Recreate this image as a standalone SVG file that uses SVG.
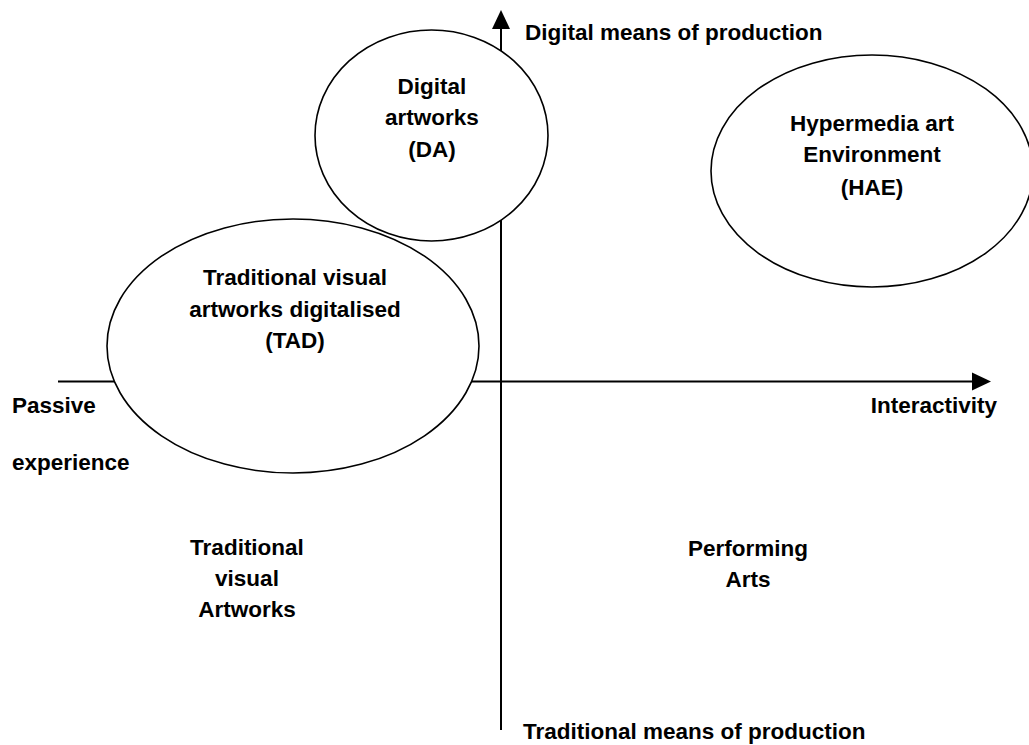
<svg xmlns="http://www.w3.org/2000/svg" width="1029" height="745" viewBox="0 0 1029 745">
  <style>
    .lbl { font-family: "Liberation Sans", Arial, sans-serif; font-weight: bold; font-size: 22.5px; fill: #000; }
    .mid { text-anchor: middle; }
    .axis { stroke: #000; stroke-width: 2; fill: none; }
    .node { fill: #fff; stroke: #000; stroke-width: 1.6; }
  </style>
  <defs>
    <marker id="head" viewBox="0 0 20 20" refX="0" refY="10" markerWidth="20" markerHeight="20" markerUnits="userSpaceOnUse" orient="auto">
      <polygon points="0,1 19,10 0,19" fill="#000"/>
    </marker>
  </defs>

  <!-- axes -->
  <g id="connectors">
    <line class="axis" x1="501" y1="730" x2="501" y2="29" marker-end="url(#head)"/>
    <line class="axis" x1="58" y1="381.5" x2="972" y2="381.5" marker-end="url(#head)"/>
  </g>

  <!-- axis labels -->
  <g id="axis-labels">
    <text class="lbl" x="525" y="40">Digital means of production</text>
    <text class="lbl" x="523" y="739">Traditional means of production</text>
    <text class="lbl" x="997" y="413" text-anchor="end">Interactivity</text>
    <text class="lbl" x="12" y="413">Passive</text>
    <text class="lbl" x="12" y="470">experience</text>
  </g>

  <!-- categories -->
  <g id="tad">
    <ellipse class="node" cx="293" cy="346" rx="186" ry="127"/>
    <text class="lbl mid" x="295" y="285">Traditional visual</text>
    <text class="lbl mid" x="295" y="317">artworks digitalised</text>
    <text class="lbl mid" x="295" y="348">(TAD)</text>
  </g>

  <g id="da">
    <ellipse class="node" cx="431.5" cy="135.5" rx="116.5" ry="105.5"/>
    <text class="lbl mid" x="432" y="94">Digital</text>
    <text class="lbl mid" x="432" y="125">artworks</text>
    <text class="lbl mid" x="432" y="157">(DA)</text>
  </g>

  <g id="hae">
    <ellipse class="node" cx="872" cy="171" rx="161" ry="116"/>
    <text class="lbl mid" x="872" y="131">Hypermedia art</text>
    <text class="lbl mid" x="872" y="162">Environment</text>
    <text class="lbl mid" x="872" y="195">(HAE)</text>
  </g>

  <g id="traditional-visual">
    <text class="lbl mid" x="247" y="555">Traditional</text>
    <text class="lbl mid" x="247" y="586">visual</text>
    <text class="lbl mid" x="247" y="617">Artworks</text>
  </g>

  <g id="performing-arts">
    <text class="lbl mid" x="748" y="556">Performing</text>
    <text class="lbl mid" x="748" y="587">Arts</text>
  </g>
</svg>
